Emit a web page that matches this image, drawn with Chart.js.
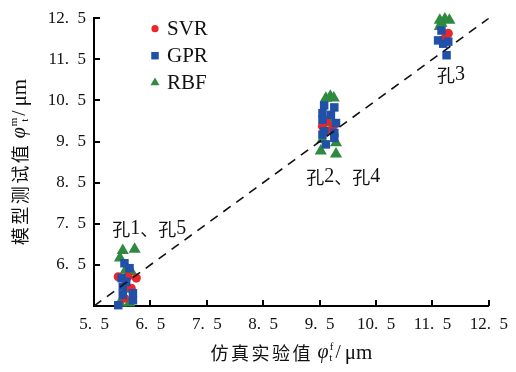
<!DOCTYPE html>
<html>
<head>
<meta charset="utf-8">
<script src="https://cdn.jsdelivr.net/npm/chart.js@4"></script>
<style>
  body { margin: 0; background: #fff; }
</style>
</head>
<body>
<canvas id="chart" width="516" height="372"></canvas>
<script>
// tick values
const xTicks = [5.5, 6.5, 7.5, 8.5, 9.5, 10.5, 11.5, 12.5];
const yTicks = [6.5, 7.5, 8.5, 9.5, 10.5, 11.5, 12.5];

// SVR (circles)
const svrX = [5.93, 6.10, 6.25, 6.16, 6.04, 9.61, 9.55, 9.76, 9.70, 11.74, 11.78, 11.68];
const svrY = [6.21, 6.21, 6.18, 5.93, 5.69, 9.99, 9.87, 9.91, 9.77, 12.05, 12.13, 11.97];

// GPR (squares)
const gprX = [6.04, 6.13, 5.99, 6.07, 6.01, 6.19, 6.01, 6.19, 5.93,
              9.58, 9.76, 9.55, 9.70, 9.55, 9.79, 9.58, 9.76, 9.55, 9.76, 9.61,
              11.66, 11.60, 11.69, 11.75, 11.78];
const gprY = [6.54, 6.42, 6.18, 6.09, 5.97, 5.81, 5.77, 5.64, 5.52,
              10.38, 10.33, 10.19, 10.15, 10.03, 9.95, 9.75, 9.71, 9.67, 9.59, 9.43,
              12.20, 11.96, 11.88, 11.60, 11.93];

// RBF (triangles)
const rbfX = [6.01, 6.22, 5.96, 6.06, 6.16, 6.10, 5.96, 6.13,
              9.61, 9.69, 9.75, 9.70, 9.55, 9.79, 9.52, 9.79,
              11.63, 11.72, 11.80, 11.66, 11.63];
const rbfY = [6.85, 6.88, 6.67, 6.37, 6.34, 5.91, 5.57, 5.57,
              10.55, 10.60, 10.56, 9.95, 9.55, 9.47, 9.27, 9.20,
              12.45, 12.48, 12.45, 12.38, 12.30];

// hole labels
const holeNames = ['孔1、孔5', '孔2、孔4', '孔3'];
const holeX = [6.48, 9.92, 11.83];
const holeY = [7.38, 8.64, 11.12];

const zip = (xs, ys) => xs.map((x, i) => ({x: x, y: ys[i]}));

const RED = '#e8262b', BLUE = '#2150a8', GREEN = '#2e8a3e';
const serif = '"Liberation Serif", "DejaVu Serif", serif';
const cjk = '"Noto Sans CJK SC", sans-serif';

function fmt(v) { return v.toFixed(1).replace('.', '.\u2002'); }

// rich text: [text, font, dy, extra gap after]
function richWidth(ctx, parts) {
  let w = 0;
  parts.forEach(p => { ctx.font = p[1]; w += ctx.measureText(p[0]).width + (p[3] || 0); });
  return w;
}
function drawRich(ctx, parts, x, y) {
  let cx = x - richWidth(ctx, parts) / 2;
  parts.forEach(p => {
    ctx.font = p[1];
    ctx.fillText(p[0], cx, y + (p[2] || 0));
    cx += ctx.measureText(p[0]).width + (p[3] || 0);
  });
}
function axisTitle(sup) {
  const t = sup === 'f' ? '仿真实验值' : '模型测试值';
  const parts = t.split('').map(c => [c, '18px ' + cjk, 0, 2.5]);
  parts[parts.length - 1][3] = 7;
  return parts.concat([
    ['φ', 'italic 20px ' + serif, 0, 1],
    [sup, '11px ' + serif, -6, -4],
    ['t', '11px ' + serif, 5, 3],
    ['/', '19px ' + serif, 0, 4],
    ['μm', '21px ' + serif]
  ]);
}

const extras = {
  id: 'extras',
  afterDraw(chart) {
    const ctx = chart.ctx, xs = chart.scales.x, ys = chart.scales.y;
    const a = chart.chartArea;
    ctx.save();
    // inner ticks
    ctx.strokeStyle = '#000';
    ctx.lineWidth = 2;
    ctx.beginPath();
    xTicks.slice(1).forEach(v => {
      const px = Math.round(xs.getPixelForValue(v));
      ctx.moveTo(px, a.bottom); ctx.lineTo(px, a.bottom - 6);
    });
    yTicks.forEach(v => {
      const py = Math.round(ys.getPixelForValue(v));
      ctx.moveTo(a.left, py); ctx.lineTo(a.left + 6, py);
    });
    ctx.stroke();

    // hole labels
    ctx.fillStyle = '#111';
    ctx.textBaseline = 'middle';
    ctx.textAlign = 'left';
    holeNames.forEach((name, i) => {
      const parts = name.split(/(\d)/).filter(s => s).map(s =>
        /\d/.test(s) ? [s, '20px ' + serif] : [s, '18px ' + cjk]);
      drawRich(ctx, parts, xs.getPixelForValue(holeX[i]), ys.getPixelForValue(holeY[i]));
    });

    // legend
    const items = [['SVR', 'circle', RED, 3.6], ['GPR', 'rect', BLUE, 5.3], ['RBF', 'triangle', GREEN, 5.2]];
    items.forEach((it, i) => {
      const y = a.top + 10.5 + i * 27;
      ctx.fillStyle = it[2];
      Chart.helpers.drawPoint(ctx, {pointStyle: it[1], radius: it[3], borderWidth: 0}, a.left + 61, y);
      ctx.fillStyle = '#111';
      ctx.font = '21px ' + serif;
      ctx.fillText(it[0], a.left + 73, y + 1);
    });

    // axis titles
    ctx.fillStyle = '#111';
    drawRich(ctx, axisTitle('f'), (a.left + a.right) / 2, 353);
    ctx.translate(20, (a.top + a.bottom) / 2);
    ctx.rotate(-Math.PI / 2);
    drawRich(ctx, axisTitle('m'), 0, 0);
    ctx.restore();
  }
};

new Chart(document.getElementById('chart'), {
  type: 'scatter',
  data: {
    datasets: [
      {
        label: '1:1',
        type: 'line',
        data: [{x: 5.5, y: 5.5}, {x: 12.5, y: 12.5}],
        borderColor: '#111',
        borderWidth: 1.6,
        borderDash: [9, 7],
        pointRadius: 0,
        fill: false
      },
      {
        label: 'GPR',
        data: zip(gprX, gprY),
        pointStyle: 'rect',
        pointRadius: 6,
        backgroundColor: BLUE,
        borderColor: BLUE,
        borderWidth: 0,
        clip: false
      },
      {
        label: 'SVR',
        data: zip(svrX, svrY),
        pointStyle: 'circle',
        pointRadius: 4.6,
        backgroundColor: RED,
        borderColor: RED,
        borderWidth: 0,
        clip: false
      },
      {
        label: 'RBF',
        data: zip(rbfX, rbfY),
        pointStyle: 'triangle',
        pointRadius: 7,
        backgroundColor: GREEN,
        borderColor: GREEN,
        borderWidth: 0,
        clip: false
      }
    ]
  },
  options: {
    responsive: false,
    animation: false,
    layout: { padding: { left: 0, top: 16, right: 24, bottom: 0 } },
    plugins: { legend: { display: false }, tooltip: { enabled: false } },
    scales: {
      x: {
        type: 'linear',
        min: 5.5, max: 12.5,
        afterBuildTicks: s => { s.ticks = xTicks.map(v => ({value: v})); },
        afterFit: s => { s.height = 66; },
        grid: { display: false, drawTicks: false },
        border: { display: true, color: '#000', width: 2 },
        ticks: { color: '#111', padding: 8, maxRotation: 0, font: { family: serif, size: 17 }, callback: v => fmt(v) }
      },
      y: {
        type: 'linear',
        min: 5.5, max: 12.5,
        afterBuildTicks: s => { s.ticks = yTicks.map(v => ({value: v})); },
        afterFit: s => { s.width = 94; },
        grid: { display: false, drawTicks: false },
        border: { display: true, color: '#000', width: 2 },
        ticks: { color: '#111', padding: 8, font: { family: serif, size: 17 }, callback: v => fmt(v) }
      }
    }
  },
  plugins: [extras]
});
</script>
</body>
</html>
